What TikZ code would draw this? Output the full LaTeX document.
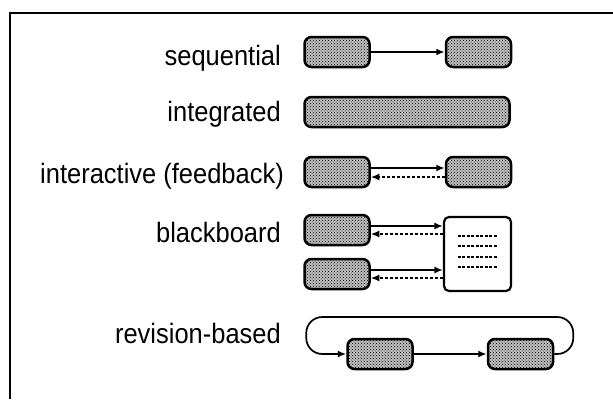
\documentclass[tikz,border=0pt]{standalone}
\usepackage{fontspec}
\setmainfont{Liberation Sans}[FakeStretch=0.91]
\usetikzlibrary{arrows.meta, calc, positioning, patterns}

\tikzset{
	proc/.style={rectangle, rounded corners=7pt, draw, line width=2.5pt, fill=black!25,
		postaction={pattern=crosshatch dots}, minimum width=65pt, minimum height=30pt, inner sep=0pt},
	board/.style={rectangle, rounded corners=5pt, draw, line width=2.2pt, fill=white,
		minimum width=67pt, minimum height=74pt, inner sep=0pt},
	lbl/.style={anchor=base east, inner sep=0pt, font=\fontsize{28}{32}\selectfont},
	flow/.style={line width=1.7pt, -{Latex[length=8.5pt,width=7pt]}},
	back/.style={flow, dash pattern=on 3pt off 2pt},
}

\begin{document}
\begin{tikzpicture}[x=1pt, y=-1pt, node distance=74pt]
				\useasboundingbox (0,0) rectangle (613,399);
				\draw[line width=2pt] (10,399) -- (10,13) -- (613,13);

				% labels
				\node[lbl] (lblSeq) at (281,65) {sequential};
				\node[lbl] (lblInt) at (281,121) {integrated};
				\node[lbl] (lblIntr) at (284,183) {interactive (feedback)};
				\node[lbl] (lblBb) at (281,242) {blackboard};
				\node[lbl] (lblRev) at (281,343) {revision-based};

				% sequential
				\node[proc] (seqA) at (337,52) {};
				\node[proc] (seqB) [right=of seqA] {};
				\draw[flow] (seqA) -- (seqB);

				% integrated
				\node[proc, minimum width=205pt] (integ) at (407,112) {};

				% interactive
				\node[proc] (intrA) at (337,172) {};
				\node[proc] (intrB) [right=of intrA] {};
				\draw[flow] ([yshift=4pt]intrA.east) -- ([yshift=4pt]intrB.west);
				\draw[back] ([yshift=-5pt]intrB.west) -- ([yshift=-5pt]intrA.east);

				% blackboard
				\node[proc] (bbA) at (337,230) {};
				\node[proc] (bbB) at (337,274) {};
				\node[board] (bbBoard) at (477.5,254) {};
				\foreach \dy in {-18,-8,3,13}
					\draw[line width=1.3pt, dash pattern=on 3pt off 1.5pt] ($(bbBoard.center)+(-20,\dy)$) -- ++(40,0);
				\foreach \src in {bbA, bbB} {
					\draw[flow] ([yshift=4pt]\src.east) -- ([yshift=4pt]\src.east -| bbBoard.west);
					\draw[back] ([yshift=-4pt]\src.east -| bbBoard.west) -- ([yshift=-4pt]\src.east);
				}

				% revision-based
				\node[proc] (revA) at (380,354) {};
				\node[proc] (revB) [right=73pt of revA] {};
				\draw[flow] (revA) -- (revB);
				\draw[flow, rounded corners=16pt] (revB.east) -- ++(19,0) -- ++(0,-37) -- ++(-267,0) -- ++(0,37) -- (revA.west);
			\end{tikzpicture}
\end{document}
